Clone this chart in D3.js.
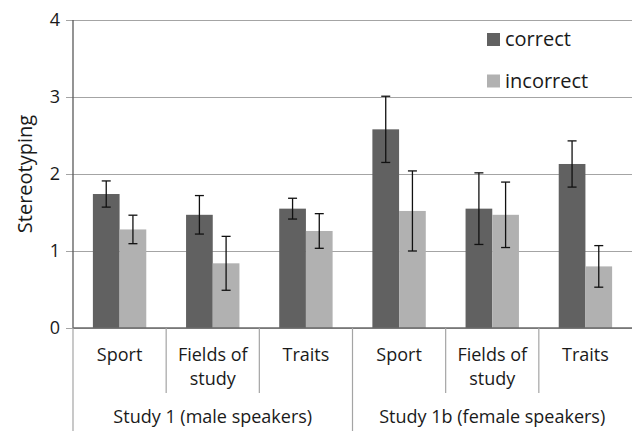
<!DOCTYPE html>
<html>
<head>
<meta charset="utf-8">
<script src="https://cdn.jsdelivr.net/npm/d3@7"></script>
<style>
  html, body { margin: 0; padding: 0; background: #fff; }
  svg { display: block; }
</style>
</head>
<body>
<script>
const fontFamily = "'Open Sans', 'Noto Sans', sans-serif";

// data
const groups = ["Study 1 (male speakers)", "Study 1b (female speakers)"];
const categories = ["Sport", "Fields of study", "Traits", "Sport", "Fields of study", "Traits"];
const categoryLines = [["Sport"], ["Fields of", "study"], ["Traits"], ["Sport"], ["Fields of", "study"], ["Traits"]];
const series = ["correct", "incorrect"];
const correct = [1.74, 1.47, 1.55, 2.58, 1.55, 2.13];
const correctErr = [0.17, 0.25, 0.135, 0.43, 0.465, 0.30];
const incorrect = [1.28, 0.84, 1.26, 1.52, 1.47, 0.80];
const incorrectErr = [0.185, 0.35, 0.225, 0.52, 0.425, 0.27];
const yTicks = [0, 1, 2, 3, 4];

const colors = { correct: "#616161", incorrect: "#b1b1b1" };

const width = 633;
const height = 431;
const plotLeft = 73, plotRight = 632, plotTop = 20, plotBottom = 328;

const svg = d3.select("body").append("svg")
    .attr("width", width)
    .attr("height", height)
    .style("font-family", fontFamily);

const keys = categories.map((c, i) => i);

const x = d3.scaleBand()
    .domain(keys)
    .range([plotLeft, plotRight])
    .paddingInner(0)
    .paddingOuter(0);

const xSeries = d3.scaleBand()
    .domain(series)
    .range([0, x.bandwidth()])
    .paddingInner(0)
    .paddingOuter(0.745);

const xGroup = d3.scaleBand()
    .domain(groups)
    .range([plotLeft, plotRight]);

const y = d3.scaleLinear()
    .domain([0, 4])
    .range([plotBottom, plotTop]);

// gridlines + y axis
const yAxis = svg.append("g")
    .attr("transform", `translate(${plotLeft},0)`)
    .call(d3.axisLeft(y).tickValues(yTicks).tickFormat(d3.format("d")).tickSizeInner(-(plotRight - plotLeft)).tickSizeOuter(0).tickPadding(13));

yAxis.select(".domain").remove();
yAxis.selectAll(".tick line")
    .attr("stroke", "#a4a4a4")
    .attr("stroke-width", 1.2)
    .attr("x1", -7);
yAxis.selectAll(".tick text")
    .attr("font-size", 18)
    .attr("font-family", fontFamily)
    .attr("fill", "#1a1a1a");

// bars
const rows = keys.map(i => ({
    i: i,
    values: [
        { key: "correct", value: correct[i], err: correctErr[i] },
        { key: "incorrect", value: incorrect[i], err: incorrectErr[i] }
    ]
}));

const cat = svg.append("g")
    .selectAll("g")
    .data(rows)
    .enter()
    .append("g")
    .attr("transform", d => `translate(${x(d.i)},0)`);

cat.selectAll("rect")
    .data(d => d.values)
    .enter()
    .append("rect")
    .attr("x", d => xSeries(d.key))
    .attr("y", d => y(d.value))
    .attr("width", xSeries.bandwidth())
    .attr("height", d => y(0) - y(d.value))
    .attr("fill", d => colors[d.key]);

// error bars
const err = cat.selectAll("g.err")
    .data(d => d.values)
    .enter()
    .append("g")
    .classed("err", true)
    .attr("stroke", "#111")
    .attr("stroke-width", 1.3);

const cx = d => xSeries(d.key) + xSeries.bandwidth() / 2;
err.append("line")
    .attr("x1", cx).attr("x2", cx)
    .attr("y1", d => y(d.value + d.err))
    .attr("y2", d => y(d.value - d.err));
err.append("line")
    .attr("x1", d => cx(d) - 4.5).attr("x2", d => cx(d) + 4.5)
    .attr("y1", d => y(d.value + d.err))
    .attr("y2", d => y(d.value + d.err));
err.append("line")
    .attr("x1", d => cx(d) - 4.5).attr("x2", d => cx(d) + 4.5)
    .attr("y1", d => y(d.value - d.err))
    .attr("y2", d => y(d.value - d.err));

// y axis line
svg.append("line")
    .attr("x1", plotLeft).attr("x2", plotLeft)
    .attr("y1", plotTop).attr("y2", plotBottom)
    .attr("stroke", "#5a5a5a")
    .attr("stroke-width", 1.3);

// x axis line
svg.append("line")
    .attr("x1", plotLeft).attr("x2", plotRight)
    .attr("y1", plotBottom).attr("y2", plotBottom)
    .attr("stroke", "#6a6a6a")
    .attr("stroke-width", 1.3);

// category separators
svg.append("g")
    .selectAll("line")
    .data(keys.filter(i => i % 3 !== 0))
    .enter()
    .append("line")
    .attr("x1", d => x(d)).attr("x2", d => x(d))
    .attr("y1", plotBottom).attr("y2", 393)
    .attr("stroke", "#a4a4a4")
    .attr("stroke-width", 1.2);

// group separators
svg.append("g")
    .selectAll("line")
    .data(groups)
    .enter()
    .append("line")
    .attr("x1", d => xGroup(d)).attr("x2", d => xGroup(d))
    .attr("y1", plotBottom).attr("y2", height)
    .attr("stroke", "#a4a4a4")
    .attr("stroke-width", 1.2);

// category labels
const catLabels = svg.append("g")
    .selectAll("text")
    .data(keys)
    .enter()
    .append("text")
    .attr("text-anchor", "middle")
    .attr("font-size", 18)
    .attr("fill", "#1a1a1a");

catLabels.selectAll("tspan")
    .data(i => categoryLines[i].map(t => ({ i: i, t: t })))
    .enter()
    .append("tspan")
    .attr("x", d => x(d.i) + x.bandwidth() / 2)
    .attr("y", (d, j) => 361 + j * 23.5)
    .text(d => d.t);

// group labels
svg.append("g")
    .selectAll("text")
    .data(groups)
    .enter()
    .append("text")
    .attr("x", d => xGroup(d) + xGroup.bandwidth() / 2)
    .attr("y", 423)
    .attr("text-anchor", "middle")
    .attr("font-size", 18)
    .attr("fill", "#1a1a1a")
    .text(d => d);

// y label
svg.append("text")
    .attr("transform", "translate(32,174) rotate(-90)")
    .attr("text-anchor", "middle")
    .attr("font-size", 20)
    .attr("fill", "#1a1a1a")
    .text("Stereotyping");

// legend
const legend = svg.append("g")
    .selectAll("g")
    .data(series)
    .enter()
    .append("g")
    .attr("transform", (d, i) => `translate(487,${33 + i * 41.5})`);

legend.append("rect")
    .attr("width", 13)
    .attr("height", 13)
    .attr("fill", d => colors[d]);

legend.append("text")
    .attr("x", 18)
    .attr("y", 13)
    .attr("font-size", 20)
    .attr("fill", "#1a1a1a")
    .text(d => d);
</script>
</body>
</html>
